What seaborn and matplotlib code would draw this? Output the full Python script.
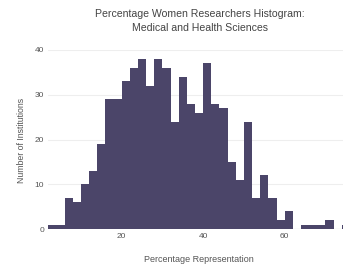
import numpy as np
import matplotlib
matplotlib.use('Agg')
import matplotlib.pyplot as plt
import seaborn as sns

# histogram bins (width 2, starting at 2) and counts
bin_edges = list(range(2, 78, 2))
counts = [1, 1, 7, 6, 10, 13, 19, 29, 29, 33, 36, 38, 32, 38, 36, 24, 34, 28,
          26, 37, 28, 27, 15, 11, 24, 7, 12, 7, 2, 4, 0, 1, 1, 1, 2, 0, 1]
bin_centers = [e + 1 for e in bin_edges[:-1]]

title = 'Percentage Women Researchers Histogram:\nMedical and Health Sciences'
xlabel = 'Percentage Representation'
ylabel = 'Number of Institutions'

sns.set_style('white')
plt.rcParams['font.family'] = ['Liberation Sans', 'DejaVu Sans']

fig = plt.figure(figsize=(3.43, 2.65), dpi=100)
ax = fig.add_axes([48.3 / 343, 1 - 229 / 265, (343 - 48.3) / 343, (229 - 50) / 265])

sns.histplot(x=bin_centers, weights=counts, bins=bin_edges, ax=ax,
             color='#4b4569', alpha=1, edgecolor='none', linewidth=0)

ax.set_xlim(2, 74.3)
ax.set_ylim(0, 40)
ax.set_xticks([20, 40, 60])
ax.set_yticks([0, 10, 20, 30, 40])
ax.yaxis.grid(True, color='#eeeeee', linewidth=0.8)
ax.set_axisbelow(True)
for s in ax.spines.values():
    s.set_visible(False)
ax.axhline(0, color='#bbbbbb', linewidth=0.8, zorder=0)
ax.tick_params(axis='both', length=0, labelsize=6, colors='#555555', pad=3)

ax.set_xlabel('')
ax.set_ylabel('')
fig.text(200 / 343, 1 - 21 / 265, title, ha='center', va='center',
         fontsize=7.6, color='#444444', linespacing=1.45)
fig.text(199 / 343, 1 - 259 / 265, xlabel, ha='center', va='center',
         fontsize=6.5, color='#555555')
fig.text(22 / 343, 1 - 140 / 265, ylabel, ha='center', va='center',
         rotation=90, fontsize=6.3, color='#555555')

fig.savefig('out.png', dpi=100)
